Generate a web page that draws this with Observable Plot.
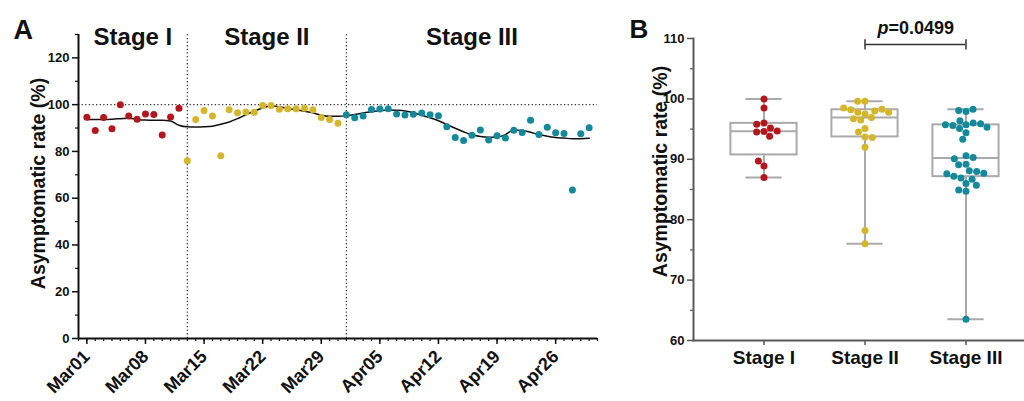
<!DOCTYPE html>
<html><head><meta charset="utf-8">
<script src="https://cdn.jsdelivr.net/npm/d3@7"></script>
<script src="https://cdn.jsdelivr.net/npm/@observablehq/plot@0.6"></script>
<style>
html,body{margin:0;padding:0;background:#fff;overflow:hidden;}
#wrap{position:relative;width:1024px;height:401px;overflow:hidden;}
#wrap svg{position:absolute;top:0;}
</style></head><body><div id="wrap"></div>
<script>
const FONT = '"Liberation Sans", Arial, Helvetica, sans-serif';
const stages = ["Stage I", "Stage II", "Stage III"];
const stageColors = ["#b3171d", "#d5b62b", "#13899b"];
const axisStart = "2020-02-29", axisEnd = "2020-05-01";
const firstDay = "2020-03-01";
const stageBoundaries = ["2020-03-13", "2020-04-01"];
const xTickDates = ["2020-03-01","2020-03-08","2020-03-15","2020-03-22","2020-03-29","2020-04-05","2020-04-12","2020-04-19","2020-04-26"];
const yTicksA = [0, 20, 40, 60, 80, 100, 120];
const yMinorA = [10, 30, 50, 70, 90, 110, 130];
const yTicksB = [60, 70, 80, 90, 100, 110];
const yMinorB = [65, 75, 85, 95, 105];
const refLine = 100;
const yTitle = "Asymptomatic rate (%)";
const pLabel = "=0.0499";
const bracketY = 109.0, bracketTickLow = 108.1, bracketTickHigh = 109.8, pLabelY = 110.8;

// daily asymptomatic rate (%) from Mar01
const stageIValues = [94.6, 88.9, 94.5, 89.7, 100.0, 95.2, 93.8, 96.0, 95.8, 87.0, 94.7, 98.5];
const stageIIValues = [76.0, 93.7, 97.5, 95.1, 78.2, 97.8, 96.5, 96.9, 96.7, 99.6, 99.6, 98.0, 98.2, 98.3, 98.5, 97.8, 94.5, 93.6, 92.0];
const stageIIIValues = [95.7, 94.4, 95.1, 97.9, 98.1, 98.3, 96.0, 95.6, 95.9, 96.4, 95.7, 95.3, 90.6, 86.0, 84.7, 86.9, 89.2, 84.9, 86.7, 85.7, 89.1, 88.1, 93.3, 87.2, 90.3, 88.0, 87.7, 63.5, 87.6, 90.1];
// smoothed trend line (Mar01 .. Apr30)
const smoothValues = [93.6, 93.7, 93.7, 93.8, 94.0, 94.2, 93.7, 93.4, 93.3, 93.3, 93.0, 91.2, 90.5, 90.4, 90.5, 90.8, 91.6, 92.6, 94.0, 95.7, 97.3, 98.6, 99.4, 99.1, 98.3, 97.8, 97.2, 96.5, 95.5, 95.0, 95.0,
  95.2, 95.8, 96.4, 97.0, 97.4, 97.7, 97.6, 97.3, 96.5, 95.5, 94.4, 93.1, 91.5, 89.9, 88.4, 87.1, 86.4, 86.1, 86.2, 87.2, 89.2, 89.0, 88.2, 87.2, 86.5, 86.0, 85.7, 85.4, 85.4, 85.6];

const parse = s => new Date(s + "T00:00:00Z");
const stageValues = [stageIValues, stageIIValues, stageIIIValues];
const allValues = stageValues.flat();
const allStages = stageValues.flatMap((arr, k) => arr.map(() => stages[k]));
const days = d3.utcDay.range(parse(firstDay), d3.utcDay.offset(parse(firstDay), allValues.length));
const rows = days.map((date, i) => ({date, value: allValues[i], stage: allStages[i]}));
const smoothRows = days.map((date, i) => ({date, value: smoothValues[i]}));
const bounds = [axisStart, ...stageBoundaries, axisEnd].map(parse);
const stageLabelRows = stages.map((s, k) => ({stage: s, mid: new Date((+bounds[k] + +bounds[k + 1]) / 2)}));
const allDayTicks = d3.utcDay.range(parse(axisStart), d3.utcDay.offset(parse(axisEnd), 1));

// GraphPad-style quartiles
function quant(sorted, p) {
  const n = sorted.length, h = (n + 1) * p;
  if (h <= 1) return sorted[0];
  if (h >= n) return sorted[n - 1];
  const lo = Math.floor(h);
  return sorted[lo - 1] + (h - lo) * (sorted[lo] - sorted[lo - 1]);
}
const stats = stages.map((s, k) => {
  const v = stageValues[k].slice().sort((a, b) => a - b);
  return {stage: s, min: v[0], max: v[v.length - 1], q1: quant(v, 0.25), median: quant(v, 0.5), q3: quant(v, 0.75)};
});

const dotted = {stroke: "#333", strokeWidth: 1.2, strokeDasharray: "1.3,2.3"};

const A = Plot.plot({
  width: 610, height: 401, marginLeft: 78, marginRight: 13, marginTop: 34, marginBottom: 63,
  style: {fontFamily: FONT, background: "transparent", overflow: "visible", color: "#111"},
  x: {type: "utc", domain: [parse(axisStart), parse(axisEnd)], label: null},
  y: {domain: [0, 130], label: null},
  color: {domain: stages, range: stageColors},
  marks: [
    Plot.ruleY([refLine], dotted),
    Plot.ruleX(stageBoundaries.map(parse), {...dotted, y1: 0, y2: 130}),
    Plot.axisX({ticks: allDayTicks, tickSize: 3, tickFormat: () => "", label: null, strokeWidth: 1.2}),
    Plot.axisX({ticks: xTickDates.map(parse), tickSize: 6, tickPadding: 9, tickFormat: d3.utcFormat("%b%d"), tickRotate: -45, fontSize: 18, fontWeight: "bold", label: null, strokeWidth: 1.5}),
    Plot.axisY({ticks: yTicksA, tickSize: 6, tickPadding: 3, fontSize: 13, fontWeight: "bold", label: null, strokeWidth: 1.5}),
    Plot.axisY({ticks: yMinorA, tickSize: 3, tickFormat: () => "", label: null, strokeWidth: 1.2}),
    Plot.ruleX([parse(axisStart)], {y1: 0, y2: 130, stroke: "#111", strokeWidth: 2}),
    Plot.ruleY([0], {stroke: "#111", strokeWidth: 2}),
    Plot.line(smoothRows, {x: "date", y: "value", stroke: "#111", strokeWidth: 1.5, curve: "monotone-x"}),
    Plot.dot(rows, {x: "date", y: "value", fill: "stage", r: 3.5}),
    Plot.text(stageLabelRows, {x: "mid", text: "stage", frameAnchor: "top", lineAnchor: "bottom", dy: 10, fontSize: 24, fontWeight: "bold"}),
    Plot.text([yTitle], {text: d => d, frameAnchor: "left", textAnchor: "middle", lineAnchor: "middle", rotate: -90, dx: -40, dy: -3, fontSize: 19.5, fontWeight: "bold"}),
    Plot.text(["A"], {text: d => d, frameAnchor: "top-left", dx: -65, dy: 4, textAnchor: "start", lineAnchor: "bottom", fontSize: 27, fontWeight: "bold"})
  ]
});
A.style.left = "0px";

const BW = 415, BL = 73, BR = 0, padIn = 0.1, padOut = 0.2265;
const step = (BW - BL - BR) / (stages.length - padIn + 2 * padOut);
const bw = step * (1 - padIn);
const boxInset = (bw - 67) / 2, capInset = (bw - 37) / 2;
const grey = {stroke: "#aaa", strokeWidth: 2};
const commonB = {width: BW, height: 401, marginLeft: BL, marginRight: BR, marginTop: 38, marginBottom: 61};

const B = Plot.plot({
  ...commonB,
  style: {fontFamily: FONT, background: "transparent", overflow: "visible", color: "#111"},
  x: {type: "band", domain: stages, paddingInner: padIn, paddingOuter: padOut, label: null},
  y: {domain: [60, 110], label: null},
  marks: [
    Plot.ruleX(stats, {x: "stage", y1: "min", y2: "q1", ...grey}),
    Plot.ruleX(stats, {x: "stage", y1: "q3", y2: "max", ...grey}),
    Plot.barY(stats, {x: "stage", y1: "q1", y2: "q3", fill: "white", ...grey, insetLeft: boxInset, insetRight: boxInset}),
    Plot.tickY(stats, {x: "stage", y: "median", ...grey, insetLeft: boxInset, insetRight: boxInset}),
    Plot.tickY(stats, {x: "stage", y: "min", ...grey, insetLeft: capInset, insetRight: capInset}),
    Plot.tickY(stats, {x: "stage", y: "max", ...grey, insetLeft: capInset, insetRight: capInset}),
    Plot.axisY({ticks: yTicksB, tickSize: 6, tickPadding: 3, fontSize: 13, fontWeight: "bold", label: null, stroke: "#555", strokeWidth: 1.5}),
    Plot.axisY({ticks: yMinorB, tickSize: 3, tickFormat: () => "", label: null, stroke: "#555", strokeWidth: 1.2}),
    Plot.axisX({tickSize: 5, tickPadding: 5, fontSize: 19, fontWeight: "bold", label: null, stroke: "#555", strokeWidth: 1.5}),
    Plot.ruleY([{y: bracketY, a: stages[1], b: stages[2]}], {y: "y", x1: "a", x2: "b", stroke: "#333", strokeWidth: 1.5, insetLeft: bw / 2, insetRight: bw / 2}),
    Plot.ruleX([stages[1], stages[2]], {x: d => d, y1: bracketTickLow, y2: bracketTickHigh, stroke: "#333", strokeWidth: 1.5}),
    Plot.text([stages[1]], {x: d => d, y: pLabelY, text: () => "p", dx: step / 2 - 27.5, textAnchor: "end", lineAnchor: "bottom", fontSize: 18, fontWeight: "bold", fontStyle: "italic"}),
    Plot.text([stages[1]], {x: d => d, y: pLabelY, text: () => pLabel, dx: step / 2 - 27.5, textAnchor: "start", lineAnchor: "bottom", fontSize: 18, fontWeight: "bold"}),
    Plot.text([yTitle], {text: d => d, frameAnchor: "left", textAnchor: "middle", lineAnchor: "middle", rotate: -90, dx: -33, dy: -18, fontSize: 19.5, fontWeight: "bold"}),
    Plot.text(["B"], {text: d => d, frameAnchor: "top-left", dx: -64, dy: -1, textAnchor: "start", lineAnchor: "bottom", fontSize: 26, fontWeight: "bold"})
  ]
});
B.style.left = "620px";

const Bdots = Plot.plot({
  ...commonB,
  style: {fontFamily: FONT, background: "transparent", overflow: "visible"},
  facet: {data: rows, x: "stage"},
  fx: {domain: stages, paddingInner: padIn, paddingOuter: padOut, axis: null, label: null},
  y: {domain: [60, 110], axis: null, label: null},
  color: {domain: stages, range: stageColors},
  marks: [
    Plot.dot(rows, Plot.dodgeX({anchor: "middle", padding: 0.4}, {y: "value", fill: "stage", r: 3.5}))
  ]
});
Bdots.style.left = "620px";
Bdots.style.pointerEvents = "none";

// axis lines of panel B, drawn on top
const Baxes = Plot.plot({
  ...commonB,
  style: {background: "transparent", overflow: "visible"},
  marks: [
    Plot.frame({anchor: "left", stroke: "#5a5a5a", strokeWidth: 2}),
    Plot.frame({anchor: "bottom", stroke: "#5a5a5a", strokeWidth: 2})
  ]
});
Baxes.style.left = "620px";
Baxes.style.pointerEvents = "none";

const wrap = document.getElementById("wrap");
wrap.appendChild(A);
wrap.appendChild(B);
wrap.appendChild(Bdots);
wrap.appendChild(Baxes);
</script>
</body></html>
